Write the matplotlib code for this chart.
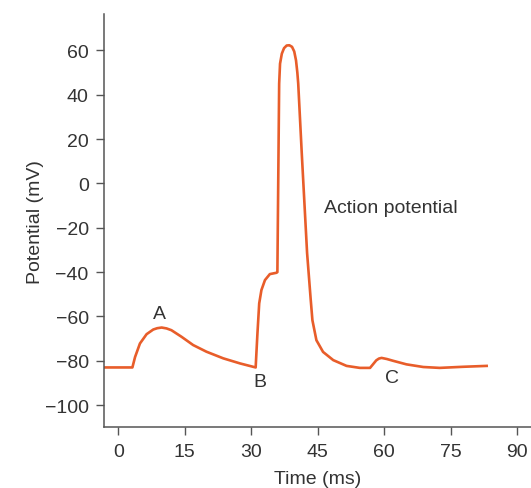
import matplotlib
matplotlib.use("Agg")
import matplotlib.pyplot as plt

plt.rcParams['font.family'] = ['Liberation Sans', 'DejaVu Sans']

# Membrane potential trace (ms, mV)
t_ms = [-3.2, 3.2, 3.8, 4.9, 6.4, 7.9, 8.8, 9.8, 10.9, 12.0, 14.3, 16.9, 19.9,
        23.7, 27.5, 31.0, 31.4, 31.8, 32.3, 33.1, 34.2, 35.7, 35.9, 36.3, 36.5,
        36.9, 37.4, 38.0, 38.6, 39.2, 39.7, 40.1, 40.4, 40.6, 41.4, 42.6, 43.4,
        43.8, 44.7, 46.2, 48.5, 51.5, 54.5, 56.8, 57.5, 58.2, 58.8, 59.4, 60.6,
        62.0, 65.0, 68.8, 72.5, 77.8, 83.1]
v_mv = [-83.0, -83.0, -78.3, -72.2, -68.0, -65.9, -65.3, -65.0, -65.4, -66.2,
        -69.2, -72.9, -75.9, -78.9, -81.2, -83.0, -67.7, -54.1, -48.1, -43.6,
        -40.9, -40.3, -40.0, 45.0, 54.0, 58.5, 61.0, 62.2, 62.3, 61.6, 59.5,
        55.5, 50.0, 45.0, 13.5, -31.4, -52.0, -61.7, -70.7, -76.0, -79.7,
        -82.3, -83.2, -83.2, -81.5, -79.8, -79.0, -78.7, -79.2, -80.0, -81.6,
        -82.8, -83.2, -82.7, -82.3]

x_ticks = [0, 15, 30, 45, 60, 75, 90]
y_ticks = [60, 40, 20, 0, -20, -40, -60, -80, -100]

point_labels = ['A', 'B', 'C']
point_t = [9.3, 32.0, 61.7]
point_v = [-58.5, -89.5, -87.5]

fig = plt.figure(figsize=(5.31, 4.89), dpi=100)
ax = fig.add_axes([0.1959, 0.1241, 0.8041, 0.8452])

ax.plot(t_ms, v_mv, color='#E85D2A', lw=1.9, solid_joinstyle='round')

ax.set_xlim(-3.2, 93.1)
ax.set_ylim(-110, 76.4)
ax.set_xticks(x_ticks)
ax.set_yticks(y_ticks)
ax.set_yticklabels([f"{v}".replace('-', '\u2212') for v in y_ticks])

for s in ['top', 'right']:
    ax.spines[s].set_visible(False)
for s in ['left', 'bottom']:
    ax.spines[s].set_color('#555555')
    ax.spines[s].set_linewidth(1.1)

ax.tick_params(axis='both', direction='out', length=6, width=1.0,
               color='#555555', labelcolor='#333333', labelsize=14, pad=5)

ax.set_xlabel('Time (ms)', fontsize=14, color='#333333')
ax.set_ylabel('Potential (mV)', fontsize=14, color='#333333')
ax.xaxis.set_label_coords(0.5, -0.104)
ax.yaxis.set_label_coords(-0.141, 0.5)

for lab, tx, vy in zip(point_labels, point_t, point_v):
    ax.text(tx, vy, lab, ha='center', va='center', fontsize=14, color='#333333')

ax.text(46.4, -10.8, 'Action potential', ha='left', va='center',
        fontsize=14, color='#333333')

fig.savefig('out.png', dpi=100)
